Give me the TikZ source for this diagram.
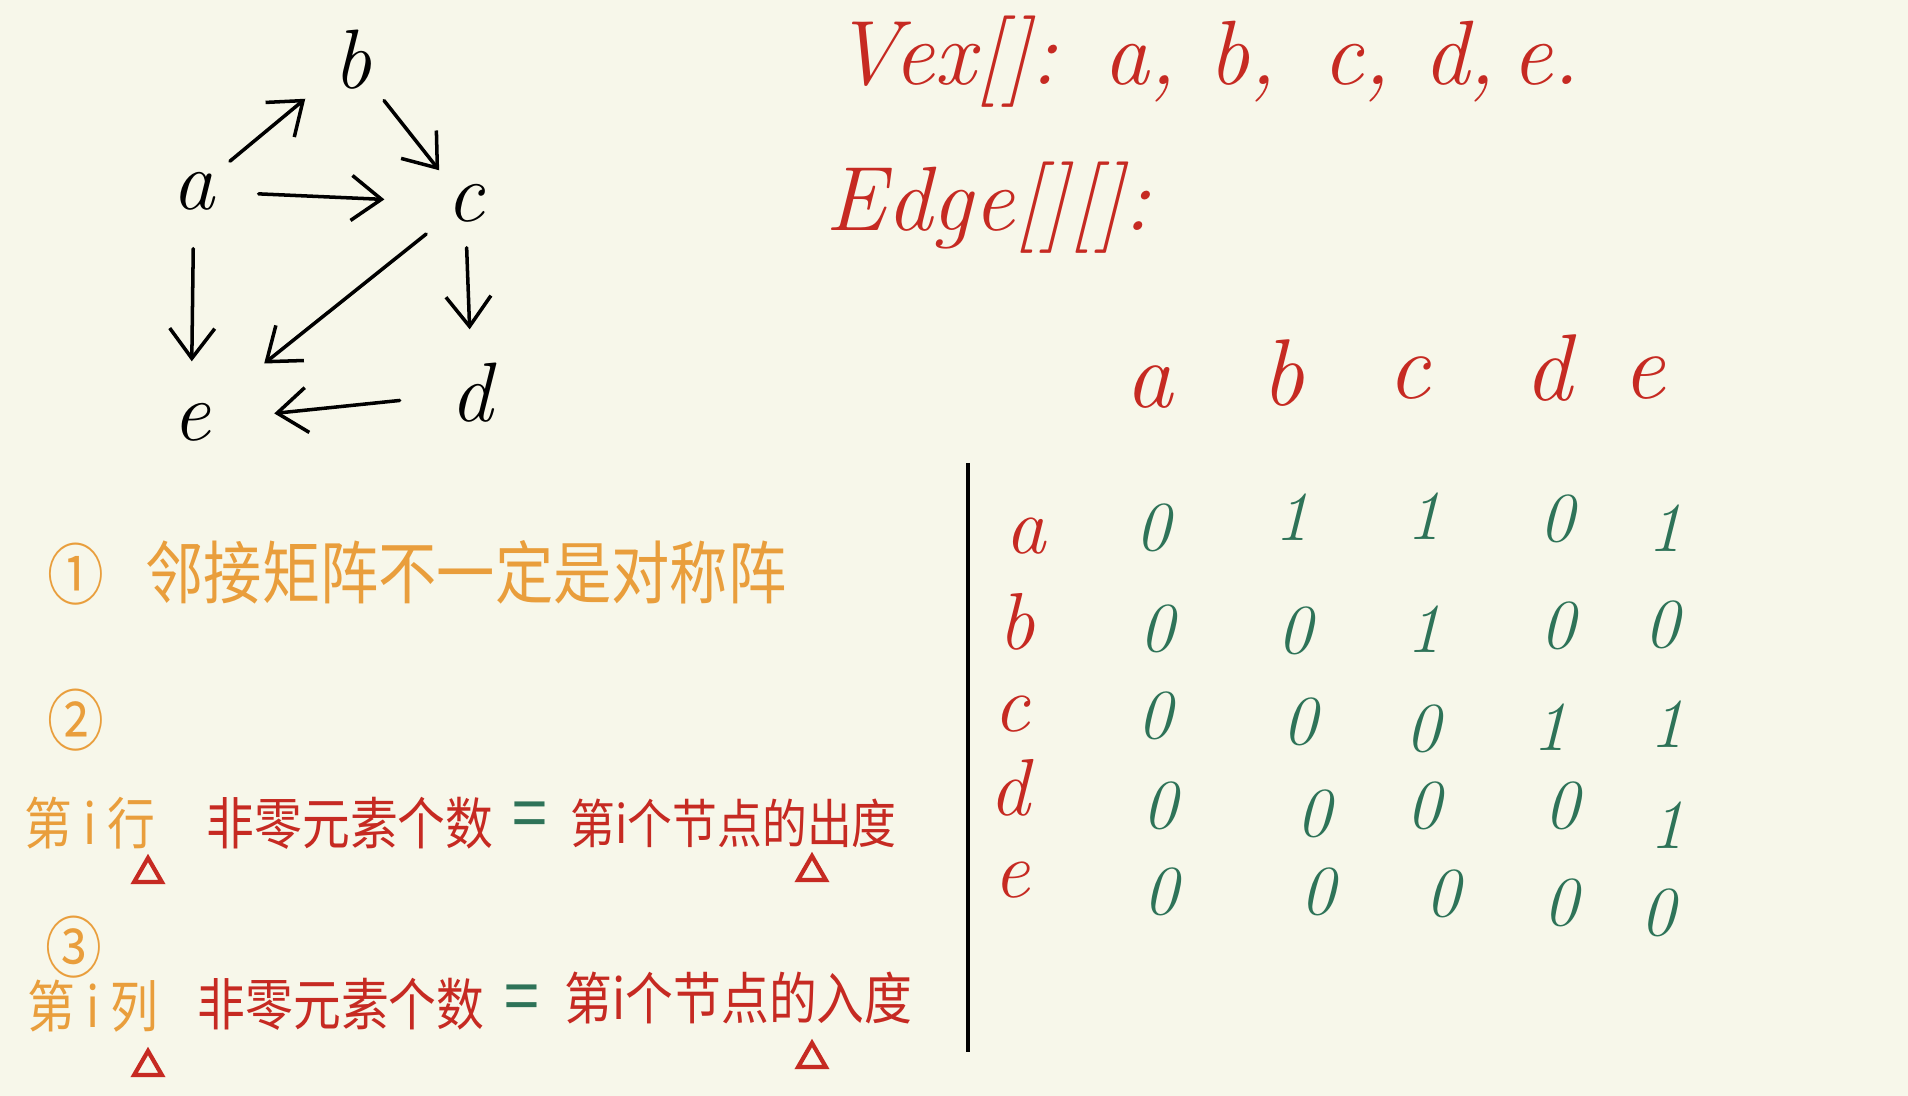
\documentclass[tikz,border=0pt]{standalone}
\usepackage{fontspec}
\usetikzlibrary{arrows.meta,shapes.geometric}
\newfontfamily\cjk[FakeStretch=0.85]{Noto Sans CJK SC}
\definecolor{paper}{RGB}{247,247,234}
\definecolor{inkred}{RGB}{198,42,34}
\definecolor{inkgreen}{RGB}{46,115,88}
\definecolor{inkorange}{RGB}{233,158,60}

\begin{document}
\begin{tikzpicture}[x=0.1mm,y=-0.1mm]
    \tikzstyle{vertex} = [circle, minimum size=8mm, inner sep=0pt, text centered, font=\fontsize{24}{28}\selectfont\itshape]
    \tikzstyle{link} = [line width=1pt, line cap=round, -{Straight Barb[length=3mm,width=4.5mm]}]
    \tikzstyle{title} = [inkred, inner sep=0pt, anchor=base west, font=\fontsize{26}{30}\selectfont\itshape]
    \tikzstyle{head} = [inkred, inner sep=0pt, anchor=base, font=\fontsize{27}{30}\selectfont\itshape]
    \tikzstyle{rowname} = [inkred, inner sep=0pt, anchor=base, font=\fontsize{23}{26}\selectfont\itshape]
    \tikzstyle{entry} = [inkgreen, inner sep=0pt, font=\fontsize{20}{24}\selectfont\itshape]
    \tikzstyle{note} = [inner sep=0pt, anchor=west, font=\cjk\fontsize{16}{20}\selectfont]
    \tikzstyle{equal} = [inkgreen, inner sep=0pt, font=\cjk\fontsize{21}{24}\selectfont]
    \tikzstyle{cnum} = [inkorange, inner sep=0pt, font=\cjk\fontsize{19}{22}\selectfont]
    \tikzstyle{tri} = [regular polygon, regular polygon sides=3, draw=inkred, line width=1.2pt, minimum size=3.2mm, inner sep=0pt]

      \fill[paper] (0,0) rectangle (1908,1096);

      % graph
      \draw
        (194,191) node[vertex] (a){a}
        (352,60) node[vertex] (b){b}
        (465,203) node[vertex] (c){c}
        (472,393) node[vertex] (d){d}
        (191,422) node[vertex] (e){e};

      \begin{scope}[link]
        \draw[shorten <=0.6mm, shorten >=2mm] (a) -- (b);
        \draw[shorten <=1.1mm, shorten >=0.1mm] (b) -- (c);
        \draw[shorten <=2.4mm, shorten >=4mm] (a) -- (c);
        \draw[shorten <=1.7mm, shorten >=2mm] (a) -- (e);
        \draw[shorten <=0.9mm, shorten >=5.3mm] (c) -- (e);
        \draw[shorten <=0.4mm, shorten >=2.3mm] (c) -- (d);
        \draw[shorten <=3.2mm, shorten >=4.3mm] (d) -- (e);
      \end{scope}

      % arrays
      \draw
        (833,85) node[title] (vex){Vex[]:\enspace a, b,\enspace c, d,\,e.}
        (825,231) node[title] (edge){Edge[][]:};

      \draw
        (1149,408) node[head] (ha){a}
        (1283,406) node[head] (hb){b}
        (1409,399) node[head] (hc){c}
        (1548,401) node[head] (hd){d}
        (1644,399) node[head] (he){e}
        (1026,553) node[rowname] (ra){a}
        (1017,650) node[rowname] (rb){b}
        (1012,731) node[rowname] (rc){c}
        (1010,815) node[rowname] (rd){d}
        (1012,897) node[rowname] (re){e};

      \draw[line width=1.2pt] (968,463) -- (968,1052);

      \draw
        (1153,528) node[entry] (aa){0}
        (1292,517) node[entry] (ab){1}
        (1424,516) node[entry] (ac){1}
        (1557,519) node[entry] (ad){0}
        (1665,528) node[entry] (ae){1}
        (1157,629) node[entry] (ba){0}
        (1295,631) node[entry] (bb){0}
        (1424,629) node[entry] (bc){1}
        (1558,626) node[entry] (bd){0}
        (1662,625) node[entry] (be){0}
        (1155,716) node[entry] (ca){0}
        (1300,722) node[entry] (cb){0}
        (1423,729) node[entry] (cc){0}
        (1550,727) node[entry] (cd){1}
        (1667,724) node[entry] (ce){1}
        (1160,806) node[entry] (da){0}
        (1314,814) node[entry] (db){0}
        (1424,806) node[entry] (dc){0}
        (1562,806) node[entry] (dd){0}
        (1667,825) node[entry] (de){1}
        (1161,892) node[entry] (ea){0}
        (1318,892) node[entry] (eb){0}
        (1443,894) node[entry] (ec){0}
        (1561,903) node[entry] (ed){0}
        (1658,913) node[entry] (ee){0};

      % notes
      \draw
        (76,574) node[cnum] (n1){①}
        (145,572) node[note, inkorange, font=\cjk\fontsize{19.5}{22}\selectfont] (rule1){邻接矩阵不一定是对称阵}
        (76,720) node[cnum] (n2){②}
        (24,823) node[note, inkorange] (rowi){第 i 行}
        (206,823) node[note, inkred] (rownz){非零元素个数}
        (530,821) node[equal] (roweq){=}
        (570,823) node[note, inkred, font=\cjk\fontsize{15}{20}\selectfont] (rowout){第i个节点的出度}
        (74,947) node[cnum] (n3){③}
        (27,1006) node[note, inkorange] (coli){第 i 列}
        (197,1004) node[note, inkred] (colnz){非零元素个数}
        (522,1004) node[equal] (coleq){=}
        (564,998) node[note, inkred] (colin){第i个节点的入度};

      \draw
        (148,874) node[tri] (t1){}
        (812,872) node[tri] (t2){}
        (148,1067) node[tri] (t3){}
        (812,1059) node[tri] (t4){};
    \end{tikzpicture}
\end{document}
